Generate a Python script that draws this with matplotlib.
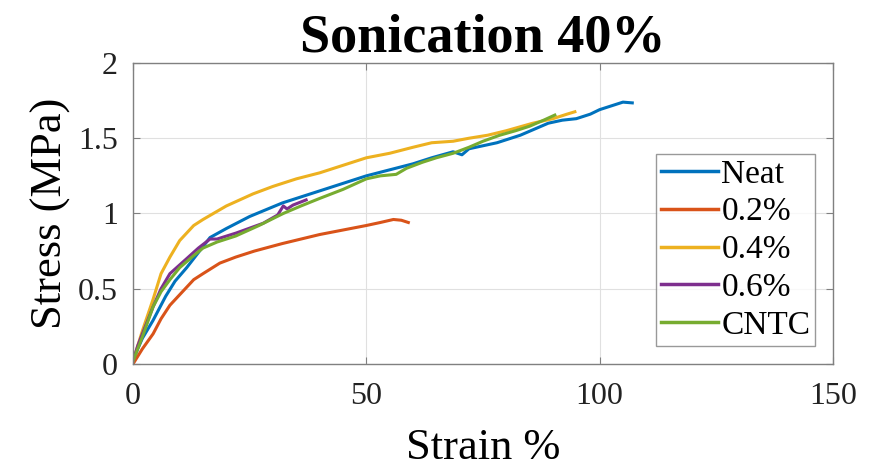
import matplotlib
matplotlib.use("Agg")
import matplotlib.pyplot as plt

# ---- data ----
neat_x = [0, 1, 2, 4.3, 7, 9, 11.5, 15, 16.5, 20, 25, 32, 36, 40, 45, 50, 55, 60, 64, 68.6, 70.5, 72,
          78, 83, 86, 89, 92, 95, 98, 100, 103, 105, 107]
neat_y = [0.02, 0.1, 0.17, 0.29, 0.45, 0.55, 0.64, 0.78, 0.84, 0.9, 0.98, 1.07, 1.11, 1.15, 1.2, 1.25,
          1.29, 1.33, 1.37, 1.41, 1.39, 1.43, 1.47, 1.52, 1.56, 1.6, 1.62, 1.63, 1.66, 1.69, 1.72, 1.74, 1.735]

p02_x = [0, 1, 2, 4.3, 6, 7.9, 10, 11.5, 13, 15, 18.6, 22, 26, 32, 36, 40, 45, 50, 53, 55.8, 57.5, 59]
p02_y = [0.0, 0.05, 0.1, 0.2, 0.3, 0.39, 0.46, 0.51, 0.56, 0.6, 0.67, 0.71, 0.75, 0.8, 0.83, 0.86,
         0.89, 0.92, 0.94, 0.96, 0.955, 0.94]

p04_x = [0, 1, 2, 4.3, 6, 7.9, 10, 11.5, 13, 15, 20, 25.7, 30, 35, 40, 45, 50, 55, 60, 64, 68.6, 72,
         76, 80, 85.7, 90, 93, 94.7]
p04_y = [0.02, 0.12, 0.22, 0.43, 0.6, 0.71, 0.82, 0.87, 0.92, 0.96, 1.05, 1.13, 1.18, 1.23, 1.27,
         1.32, 1.37, 1.4, 1.44, 1.47, 1.48, 1.5, 1.52, 1.55, 1.6, 1.63, 1.66, 1.676]

p06_x = [0, 1, 2, 4.3, 6, 7.9, 11.5, 14, 16.5, 18, 22.1, 27.9, 31, 32.2, 33, 34.3, 37.1]
p06_y = [0.02, 0.12, 0.2, 0.38, 0.5, 0.6, 0.7, 0.77, 0.83, 0.83, 0.87, 0.935, 0.99, 1.05, 1.03, 1.056, 1.09]

cntc_x = [0, 1, 2, 4.3, 6, 7.9, 10, 11.5, 13, 15, 18, 22, 27, 32.2, 36, 40, 45, 50, 53, 56.4, 58.6,
          62, 65, 68.6, 72, 75, 78.6, 82, 85, 88, 90.4]
cntc_y = [0.02, 0.1, 0.18, 0.38, 0.48, 0.56, 0.64, 0.68, 0.72, 0.77, 0.81, 0.85, 0.92, 1.0, 1.05, 1.1,
          1.16, 1.23, 1.25, 1.26, 1.3, 1.34, 1.37, 1.4, 1.44, 1.48, 1.52, 1.55, 1.58, 1.62, 1.654]

labels = ["Neat", "0.2%", "0.4%", "0.6%", "CNTC"]
colors = ["#0072BD", "#D95319", "#EDB120", "#7E2F8E", "#77AC30"]
xticks = [0, 50, 100, 150]
yticks = [0, 0.5, 1, 1.5, 2]
yticklabels = ["0", "0.5", "1", "1.5", "2"]

plt.rcParams["font.family"] = ["Liberation Serif", "DejaVu Serif"]

fig = plt.figure(figsize=(8.87, 4.72), dpi=100)
ax = fig.add_axes([0.150, 0.229, 0.789, 0.6375])

series = [(neat_x, neat_y), (p02_x, p02_y), (p04_x, p04_y), (p06_x, p06_y), (cntc_x, cntc_y)]
for (xs, ys), lab, c in zip(series, labels, colors):
    ax.plot(xs, ys, color=c, lw=2.2, label=lab)

ax.set_xlim(0, 150)
ax.set_ylim(0, 2)
ax.set_xticks(xticks)
ax.set_yticks(yticks)
ax.set_yticklabels(yticklabels)
ax.grid(True, color="#e0e0e0", lw=0.8)
ax.set_axisbelow(True)
for s in ax.spines.values():
    s.set_color("#808080")
    s.set_linewidth(1.0)
ax.tick_params(direction="in", length=5, width=0.8, color="#808080", labelsize=23,
               top=True, right=True, labelcolor="#222222")
ax.tick_params(axis="x", pad=13)
ax.tick_params(axis="y", pad=11)

ax.set_xlabel("Strain %", fontsize=32, labelpad=12)
ax.set_ylabel("Stress (MPa)", fontsize=32, labelpad=5)
ax.set_title("Sonication 40%", fontsize=39, fontweight="bold", pad=8)

leg = ax.legend(loc="lower right", bbox_to_anchor=(0.975, 0.06), fontsize=24, frameon=True,
                fancybox=False, handlelength=1.7, handletextpad=0.1, labelspacing=0.22,
                borderpad=0.15, borderaxespad=0.0)
leg.get_frame().set_edgecolor("#808080")
leg.get_frame().set_linewidth(1.0)
for h in leg.get_lines():
    h.set_linewidth(2.5)

fig.savefig("out.png", dpi=100)
